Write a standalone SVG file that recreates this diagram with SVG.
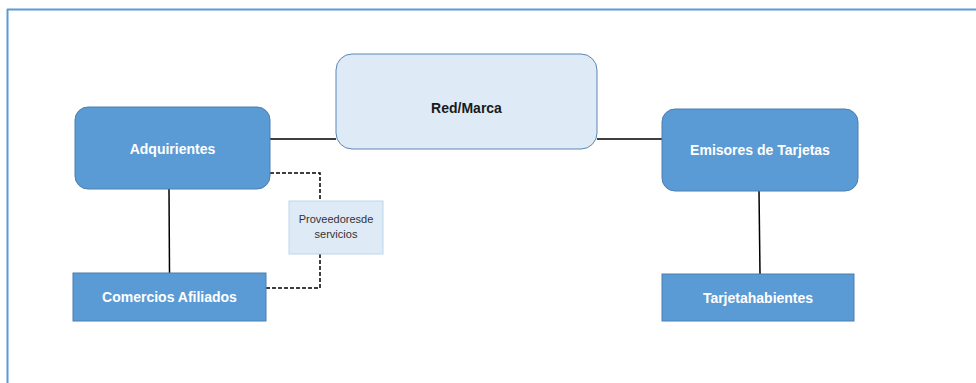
<svg xmlns="http://www.w3.org/2000/svg" width="976" height="383" viewBox="0 0 976 383">
<style>
.dark{fill:#5B9BD5;stroke:#4A7EB0;stroke-width:1}
.light{fill:#DEEAF6;stroke:#5A87B3;stroke-width:1}
.prov{fill:#DEEAF6;stroke:#BDD7EE;stroke-width:1}
.wt{font-family:"Liberation Sans",Arial,sans-serif;font-weight:bold;font-size:14px;fill:#FFFFFF;text-anchor:middle}
.bt{font-family:"Liberation Sans",Arial,sans-serif;font-weight:bold;font-size:14px;fill:#1a1a1a;text-anchor:middle}
.st{font-family:"Liberation Sans",Arial,sans-serif;font-size:11px;fill:#333333;text-anchor:middle}
.solid{fill:none;stroke:#000;stroke-width:1.5}
.dash{fill:none;stroke:#000;stroke-width:1.5;stroke-dasharray:4 2}
</style>
<rect width="976" height="383" fill="#FFFFFF"/>
<g id="frame">
<line x1="7" y1="9.5" x2="976" y2="9.5" stroke="#5B9BD5" stroke-width="2"/>
<line x1="7.5" y1="9" x2="7.5" y2="383" stroke="#5B9BD5" stroke-width="2"/>
</g>
<g id="connectors">
<line class="solid" x1="270" y1="139" x2="336" y2="139"/>
<line class="solid" x1="597" y1="139" x2="662" y2="139"/>
<line class="solid" x1="169" y1="189" x2="169.5" y2="273"/>
<line class="solid" x1="759" y1="191" x2="760" y2="274"/>
<polyline class="dash" points="270,173 320,173 320,201"/>
<polyline class="dash" points="320,254 320,288 266,288"/>
</g>
<g id="red-marca">
<rect class="light" x="336" y="54" width="261" height="95" rx="16"/>
<text class="bt" x="466.5" y="113">Red/Marca</text>
</g>
<g id="adquirientes">
<rect class="dark" x="75" y="107" width="195" height="82" rx="13"/>
<text class="wt" x="172.5" y="154">Adquirientes</text>
</g>
<g id="emisores">
<rect class="dark" x="662" y="109" width="196" height="82" rx="13"/>
<text class="wt" x="760" y="155">Emisores de Tarjetas</text>
</g>
<g id="comercios">
<rect class="dark" x="73" y="273" width="193" height="48"/>
<text class="wt" x="169.5" y="302">Comercios Afiliados</text>
</g>
<g id="tarjetahabientes">
<rect class="dark" x="662" y="274" width="192" height="47"/>
<text class="wt" x="758" y="303">Tarjetahabientes</text>
</g>
<g id="proveedores">
<rect class="prov" x="289" y="201" width="94" height="53"/>
<text class="st" x="336" y="223">Proveedoresde</text>
<text class="st" x="336" y="238">servicios</text>
</g>
</svg>
